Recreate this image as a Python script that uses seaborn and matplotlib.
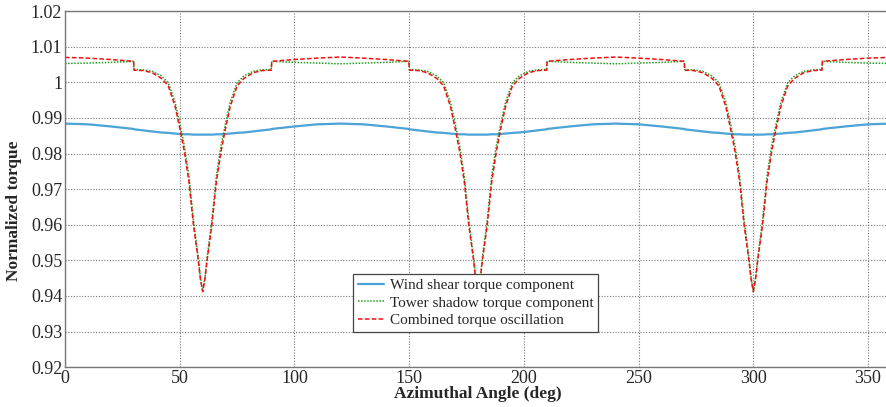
import matplotlib
matplotlib.use("Agg")
import matplotlib.pyplot as plt
import pandas as pd
import seaborn as sns

AZIMUTH = [
    0, 10, 20, 29.9, 30.1, 34, 38, 42, 45, 48, 50, 52, 54, 56, 58, 59,
    60, 61, 62, 64, 66, 68, 70, 72, 75, 78, 82, 86, 89.9, 90.1, 100, 110,
    120, 130, 140, 149.9, 150.1, 154, 158, 162, 165, 168, 170, 172, 174, 176, 178, 179,
    180, 181, 182, 184, 186, 188, 190, 192, 195, 198, 202, 206, 209.9, 210.1, 220, 230,
    240, 250, 260, 269.9, 270.1, 274, 278, 282, 285, 288, 290, 292, 294, 296, 298, 299,
    300, 301, 302, 304, 306, 308, 310, 312, 315, 318, 322, 326, 329.9, 330.1, 340, 350,
    360,
]

WIND_SHEAR = [
    0.9884, 0.9882, 0.9876, 0.9869, 0.9868, 0.9865, 0.9862, 0.9859, 0.9858, 0.9856, 0.9855, 0.9854, 0.9854, 0.9853, 0.9853, 0.9853,
    0.9853, 0.9853, 0.9853, 0.9853, 0.9854, 0.9854, 0.9855, 0.9856, 0.9858, 0.9859, 0.9862, 0.9865, 0.9868, 0.9869, 0.9876, 0.9882,
    0.9884, 0.9882, 0.9876, 0.9869, 0.9868, 0.9865, 0.9862, 0.9859, 0.9858, 0.9856, 0.9855, 0.9854, 0.9854, 0.9853, 0.9853, 0.9853,
    0.9853, 0.9853, 0.9853, 0.9853, 0.9854, 0.9854, 0.9855, 0.9856, 0.9858, 0.9859, 0.9862, 0.9865, 0.9868, 0.9869, 0.9876, 0.9882,
    0.9884, 0.9882, 0.9876, 0.9869, 0.9868, 0.9865, 0.9862, 0.9859, 0.9858, 0.9856, 0.9855, 0.9854, 0.9854, 0.9853, 0.9853, 0.9853,
    0.9853, 0.9853, 0.9853, 0.9853, 0.9854, 0.9854, 0.9855, 0.9856, 0.9858, 0.9859, 0.9862, 0.9865, 0.9868, 0.9869, 0.9876, 0.9882,
    0.9884,
]

TOWER_SHADOW = [
    1.0053, 1.0054, 1.0056, 1.0059, 1.0036, 1.0035, 1.0031, 1.0018, 0.9999, 0.9944, 0.9886, 0.9822, 0.9738, 0.9612, 0.9512, 0.9452,
    0.9413, 0.9452, 0.9512, 0.9612, 0.9738, 0.9822, 0.9886, 0.9944, 0.9999, 1.0018, 1.0031, 1.0035, 1.0036, 1.0059, 1.0056, 1.0054,
    1.0052, 1.0054, 1.0056, 1.0059, 1.0036, 1.0035, 1.0031, 1.0018, 0.9999, 0.9944, 0.9886, 0.9822, 0.9738, 0.9612, 0.9512, 0.9452,
    0.9413, 0.9452, 0.9512, 0.9612, 0.9738, 0.9822, 0.9886, 0.9944, 0.9999, 1.0018, 1.0031, 1.0035, 1.0036, 1.0059, 1.0056, 1.0054,
    1.0052, 1.0054, 1.0056, 1.0059, 1.0036, 1.0035, 1.0031, 1.0018, 0.9999, 0.9944, 0.9886, 0.9822, 0.9738, 0.9612, 0.9512, 0.9452,
    0.9413, 0.9452, 0.9512, 0.9612, 0.9738, 0.9822, 0.9886, 0.9944, 0.9999, 1.0018, 1.0031, 1.0035, 1.0036, 1.0059, 1.0056, 1.0054,
    1.0053,
]

COMBINED = [
    1.0070, 1.0068, 1.0064, 1.0059, 1.0034, 1.0033, 1.0027, 1.0011, 0.9990, 0.9932, 0.9872, 0.9806, 0.9722, 0.9598, 0.9504, 0.9448,
    0.9412, 0.9448, 0.9504, 0.9598, 0.9722, 0.9806, 0.9872, 0.9932, 0.9990, 1.0011, 1.0027, 1.0033, 1.0034, 1.0059, 1.0064, 1.0068,
    1.0071, 1.0068, 1.0064, 1.0059, 1.0034, 1.0033, 1.0027, 1.0011, 0.9990, 0.9932, 0.9872, 0.9806, 0.9722, 0.9598, 0.9504, 0.9448,
    0.9412, 0.9448, 0.9504, 0.9598, 0.9722, 0.9806, 0.9872, 0.9932, 0.9990, 1.0011, 1.0027, 1.0033, 1.0034, 1.0059, 1.0064, 1.0068,
    1.0071, 1.0068, 1.0064, 1.0059, 1.0034, 1.0033, 1.0027, 1.0011, 0.9990, 0.9932, 0.9872, 0.9806, 0.9722, 0.9598, 0.9504, 0.9448,
    0.9412, 0.9448, 0.9504, 0.9598, 0.9722, 0.9806, 0.9872, 0.9932, 0.9990, 1.0011, 1.0027, 1.0033, 1.0034, 1.0059, 1.0064, 1.0068,
    1.0070,
]

SERIES_NAMES = [
    "Wind shear torque component",
    "Tower shadow torque component",
    "Combined torque oscillation",
]

X_TICKS = [0, 50, 100, 150, 200, 250, 300, 350]
Y_TICKS = [0.92, 0.93, 0.94, 0.95, 0.96, 0.97, 0.98, 0.99, 1.0, 1.01, 1.02]
Y_TICK_LABELS = ["0.92", "0.93", "0.94", "0.95", "0.96", "0.97", "0.98", "0.99", "1", "1.01", "1.02"]


def main() -> None:
    sns.set_style("whitegrid")
    plt.rcParams["font.family"] = ["Liberation Serif", "DejaVu Serif"]

    df = pd.DataFrame({
        "azimuth": AZIMUTH,
        SERIES_NAMES[0]: WIND_SHEAR,
        SERIES_NAMES[1]: TOWER_SHADOW,
        SERIES_NAMES[2]: COMBINED,
    })

    fig, ax = plt.subplots(figsize=(8.87, 4.07), dpi=100)
    fig.subplots_adjust(left=0.0733, right=1.0045, bottom=0.098, top=0.9727)

    sns.lineplot(data=df, x="azimuth", y=SERIES_NAMES[0], color="#4ba3d6",
                 linewidth=1.6, estimator=None, sort=False, label=SERIES_NAMES[0], ax=ax)
    sns.lineplot(data=df, x="azimuth", y=SERIES_NAMES[1], color="#22a022",
                 linewidth=1.1, linestyle=(0, (1, 1)), estimator=None, sort=False,
                 label=SERIES_NAMES[1], ax=ax)
    sns.lineplot(data=df, x="azimuth", y=SERIES_NAMES[2], color="#ee1111",
                 linewidth=1.1, linestyle=(0, (3, 1.5)), estimator=None, sort=False,
                 label=SERIES_NAMES[2], ax=ax)

    ax.set_xlim(0, 360)
    ax.set_ylim(0.92, 1.02)
    ax.set_xticks(X_TICKS)
    ax.set_yticks(Y_TICKS)
    ax.set_yticklabels(Y_TICK_LABELS)
    ax.tick_params(axis="both", labelsize=13, direction="in", length=4,
                   color="#555555", pad=2)

    ax.grid(True, linestyle=(0, (1, 1.5)), color="#777777", linewidth=0.8)
    for spine in ax.spines.values():
        spine.set_color("#777777")
        spine.set_linewidth(1.0)

    ax.set_xlabel("Azimuthal Angle (deg)", fontsize=12.5, fontweight="bold", labelpad=-1)
    ax.set_ylabel("Normalized torque", fontsize=12.5, fontweight="bold")
    ax.yaxis.set_label_coords(-0.052, 0.44)

    leg = ax.legend(loc="lower left", bbox_to_anchor=(0.349, 0.099), fontsize=11,
                    frameon=True, fancybox=False, framealpha=1, edgecolor="#444444",
                    handlelength=1.7, handletextpad=0.4, borderpad=0.3,
                    labelspacing=0.25, borderaxespad=0)
    leg.get_frame().set_linewidth(0.9)

    fig.savefig("out.png", dpi=100)
    plt.close(fig)


if __name__ == "__main__":
    main()
